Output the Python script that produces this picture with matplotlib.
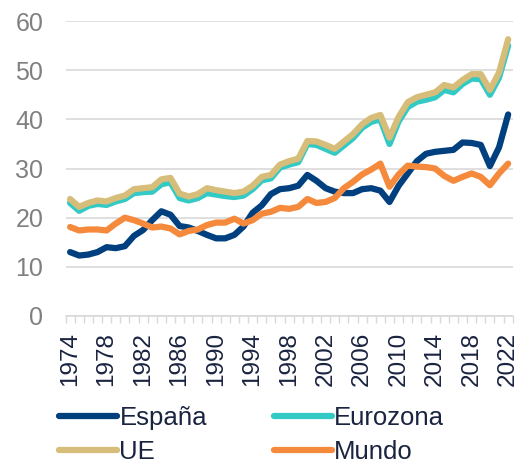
import matplotlib
matplotlib.use('Agg')
import matplotlib.pyplot as plt
import numpy as np

plt.rcParams['font.family'] = ['Liberation Sans', 'DejaVu Sans']

years = list(range(1974, 2023))

espana = [13.0, 12.3, 12.5, 13.0, 14.0, 13.8, 14.2, 16.3, 17.5, 19.5,
          21.3, 20.6, 18.3, 18.0, 17.3, 16.5, 15.8, 15.8, 16.5, 18.2,
          21.0, 22.5, 24.8, 25.8, 26.0, 26.5, 28.7, 27.5, 26.0, 25.3,
          25.0, 25.0, 25.8, 26.0, 25.5, 23.2, 26.5, 29.0, 31.5, 33.0,
          33.4, 33.6, 33.8, 35.3, 35.2, 34.8, 30.5, 34.3, 41.0]

eurozona = [23.0, 21.4, 22.4, 22.8, 22.6, 23.3, 23.8, 25.0, 25.2, 25.3,
            26.8, 27.2, 24.0, 23.5, 24.0, 25.0, 24.7, 24.4, 24.2, 24.5,
            25.8, 27.6, 28.0, 30.2, 30.8, 31.3, 35.0, 34.8, 34.0, 33.2,
            34.7, 36.2, 38.3, 39.5, 40.0, 35.0, 39.6, 42.5, 43.6, 44.0,
            44.5, 46.0, 45.5, 47.2, 48.3, 48.2, 45.0, 48.5, 55.0]

ue = [23.8, 22.2, 23.0, 23.5, 23.3, 24.0, 24.5, 25.8, 26.0, 26.2,
      27.8, 28.1, 24.9, 24.3, 24.8, 26.0, 25.6, 25.3, 25.0, 25.3,
      26.5, 28.3, 28.7, 30.8, 31.5, 32.0, 35.6, 35.5, 34.8, 34.0,
      35.5, 37.0, 39.0, 40.3, 40.9, 36.3, 40.5, 43.5, 44.5, 45.0,
      45.5, 47.0, 46.5, 48.0, 49.2, 49.2, 46.0, 49.5, 56.3]

mundo = [18.1, 17.4, 17.6, 17.6, 17.4, 18.8, 20.0, 19.5, 18.8, 18.0,
         18.2, 17.8, 16.6, 17.3, 17.6, 18.5, 19.0, 19.0, 19.8, 18.8,
         19.5, 20.8, 21.2, 22.0, 21.8, 22.2, 23.8, 23.0, 23.2, 24.0,
         26.0, 27.3, 28.8, 29.8, 31.0, 26.3, 28.8, 30.6, 30.4, 30.3,
         30.0, 28.5, 27.5, 28.3, 29.0, 28.3, 26.6, 29.0, 31.0]

fig = plt.figure(figsize=(5.2, 4.63), dpi=100)
ax = fig.add_axes([0.126, 0.3175, 0.86, 0.637])

lw = 4.5
ax.plot(years, espana, color='#00407f', lw=lw, label='España', solid_capstyle='round', zorder=3)
ax.plot(years, eurozona, color='#33c9c4', lw=lw, label='Eurozona', solid_capstyle='round', zorder=3)
ax.plot(years, ue, color='#d6bd79', lw=lw, label='UE', solid_capstyle='round', zorder=3)
ax.plot(years, mundo, color='#f68a3c', lw=lw, label='Mundo', solid_capstyle='round', zorder=3)

ax.set_xlim(1973.5, 2022.5)
ax.set_ylim(0, 60)
ax.set_yticks(range(0, 61, 10))
ax.grid(axis='y', color='#d9d9d9', lw=1.2, zorder=0)
for s in ['top', 'right', 'left']:
    ax.spines[s].set_visible(False)
ax.spines['bottom'].set_color('#d9d9d9')
ax.spines['bottom'].set_linewidth(1.2)

ax.set_xticks(years[::4])
ax.set_xticks(np.arange(1973.5, 2023, 1), minor=True)
ax.tick_params(axis='x', which='major', length=0, pad=11.5, labelrotation=90,
               labelsize=17.5, labelcolor='#1a2440')
ax.tick_params(axis='x', which='minor', length=5, color='#d9d9d9', width=1)
ax.tick_params(axis='y', length=0, pad=16, labelsize=18, labelcolor='#808080')

h, l = ax.get_legend_handles_labels()
order = [0, 2, 1, 3]
fig.legend([h[i] for i in order], [l[i] for i in order], ncol=2,
           loc='upper left', bbox_to_anchor=(0.113, 0.124), frameon=False,
           fontsize=18.5, labelcolor='#1a2440', handlelength=2.26,
           handletextpad=0.1, columnspacing=2.6, borderpad=0,
           labelspacing=0.42, borderaxespad=0)

fig.savefig('out.png', dpi=100)
